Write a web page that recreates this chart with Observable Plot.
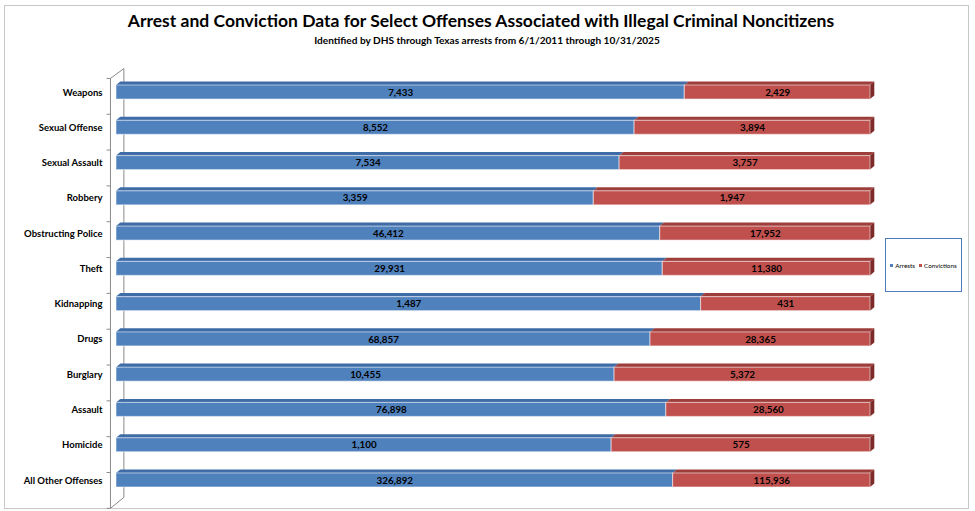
<!DOCTYPE html>
<html>
<head>
<meta charset="utf-8">
<script src="https://cdn.jsdelivr.net/npm/d3@7"></script>
<script src="https://cdn.jsdelivr.net/npm/@observablehq/plot@0.6"></script>
<style>
  html, body { margin: 0; padding: 0; background: #fff; }
  #wrap { position: relative; width: 975px; height: 511px; overflow: hidden; font-family: Lato, "Open Sans", sans-serif; }
  #frame { position: absolute; left: 4px; top: 5px; width: 965px; height: 504px; border: 1.5px solid #c8c8c8; box-sizing: border-box; }
  .title { position: absolute; white-space: nowrap; font-weight: bold; color: #000; transform: translateX(-50%); }
  #t1 { left: 481px; top: 10px; font-size: 17.5px; }
  #t2 { left: 487px; top: 34px; font-size: 10.1px; }
  #legend { position: absolute; left: 885px; top: 238px; width: 77px; height: 54px; border: 1px solid #4f7bbf; box-sizing: border-box; display: flex; align-items: center; justify-content: center; font-size: 6.3px; color: #000; white-space: nowrap; }
  #legend .sw { display: inline-block; width: 3px; height: 3px; margin: 0 2px 0 0; vertical-align: middle; }
  #legend .it { margin: 0 2px; }
  #chart { position: absolute; left: 0; top: 0; }
</style>
</head>
<body>
<div id="wrap">
  <div id="frame"></div>
  <div id="chart"></div>
  <div class="title" id="t1">Arrest and Conviction Data for Select Offenses Associated with Illegal Criminal Noncitizens</div>
  <div class="title" id="t2">Identified by DHS through Texas arrests from 6/1/2011 through 10/31/2025</div>
  <div id="legend"><span class="it"><span class="sw" style="background:#4F81BD"></span>Arrests</span><span class="it"><span class="sw" style="background:#C0504D"></span>Convictions</span></div>
</div>
<script>
const categories = ["Weapons","Sexual Offense","Sexual Assault","Robbery","Obstructing Police","Theft","Kidnapping","Drugs","Burglary","Assault","Homicide","All Other Offenses"];
const arrests = [7433, 8552, 7534, 3359, 46412, 29931, 1487, 68857, 10455, 76898, 1100, 326892];
const convictions = [2429, 3894, 3757, 1947, 17952, 11380, 431, 28365, 5372, 28560, 575, 115936];
const seriesNames = ["Arrests", "Convictions"];
const seriesColors = ["#4F81BD", "#C0504D"];
const topColors = ["#3E6CA6", "#9E3E3B"];
const sideColor = "#7D2A28";

// geometry constants (data units)
const H = 0.199;   // half height of bar front face (row units)
const DY = 0.10;   // bar depth vertical
const DX = 0.0057; // bar depth horizontal
const fmt = d3.format(",");

const segs = [];
categories.forEach((c, i) => {
  const t = arrests[i] + convictions[i];
  const share = arrests[i] / t;
  segs.push({i, s: 0, e: share, v: arrests[i], k: 0});
  segs.push({i, s: share, e: 1, v: convictions[i], k: 1});
});

const topPts = segs.flatMap((d, j) => [
  {z: j, y: d.i - H, x1: d.s, x2: d.e, fill: topColors[d.k]},
  {z: j, y: d.i - H - DY, x1: d.s + DX, x2: d.e + DX, fill: topColors[d.k]}
]);
const sidePts = categories.flatMap((c, i) => [
  {z: i, x: 1, y1: i - H, y2: i + H},
  {z: i, x: 1 + DX, y1: i - H - DY, y2: i + H - DY}
]);

// 3D wall outline
const n = categories.length;
const fx = -0.008, bx = 0.0098;
const fy0 = -0.40, fy1 = n - 0.21, by0 = -0.68, by1 = n - 0.52;
const wall = [
  {x: fx, y: fy0}, {x: bx, y: by0}, {x: bx, y: by1}, {x: fx, y: fy1}, {x: fx, y: fy0}
];
const tickYs = d3.range(n + 1).map(k => fy0 + k * (fy1 - fy0) / n);

const plot = Plot.plot({
  width: 975,
  height: 511,
  marginLeft: 116,
  marginRight: 105,
  x: {domain: [0, 1], axis: null},
  y: {domain: [-0.5, n - 0.5], range: [74.4, 497.6]},
  color: {type: "identity"},
  style: {fontFamily: "Lato, 'Open Sans', sans-serif", background: "transparent", overflow: "visible"},
  marks: [
    Plot.line(wall, {x: "x", y: "y", stroke: "#8a8a8a", strokeWidth: 1}),
    Plot.ruleY(tickYs, {y: d => d, x1: fx - 0.0045, x2: fx, stroke: "#8a8a8a", strokeWidth: 1}),
    Plot.areaX(topPts, {y: "y", x1: "x1", x2: "x2", z: "z", fill: "fill", curve: "linear"}),
    Plot.areaY(sidePts, {x: "x", y1: "y1", y2: "y2", z: "z", fill: sideColor, curve: "linear"}),
    Plot.rect(segs, {
      x1: "s", x2: "e",
      y1: d => d.i - H, y2: d => d.i + H,
      fill: d => seriesColors[d.k],
      stroke: "#ffffff", strokeOpacity: 0.45, strokeWidth: 1.2
    }),
    Plot.text(segs, {
      x: d => (d.s + d.e) / 2, y: "i",
      text: d => fmt(d.v),
      fill: "#000", fontWeight: "bold", fontSize: 9.8
    }),
    Plot.axisY(d3.range(n), {
      tickFormat: i => categories[i],
      tickSize: 0, tickPadding: 14,
      fontWeight: "bold", fontSize: 9.5, fill: "#000"
    })
  ]
});
document.getElementById("chart").appendChild(plot);
</script>
</body>
</html>
